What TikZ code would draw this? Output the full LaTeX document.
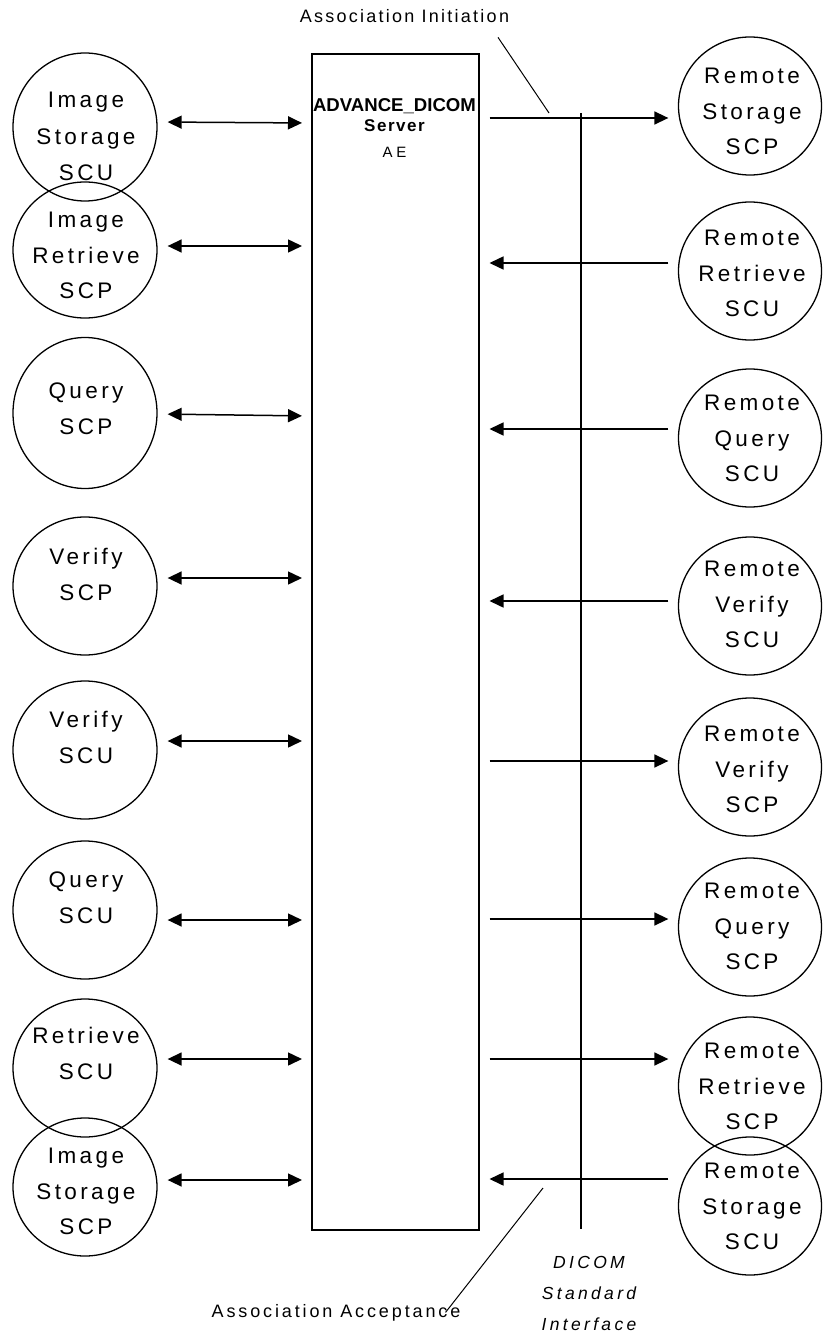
\documentclass[tikz,border=0pt]{standalone}
\usepackage{fontspec}
\setmainfont{Liberation Sans}
\newfontfamily\spacedfont[LetterSpace=15,Ligatures=NoCommon]{Liberation Sans}
\usetikzlibrary{shapes.geometric,arrows.meta,positioning,calc}

\tikzset{
    unit/.style={draw, ellipse, line width=1.3pt, minimum width=143pt, minimum height=138pt, inner sep=0pt},
    unittext/.style={anchor=north, align=center, inner sep=0pt, font=\spacedfont\fontsize{22.5}{35.5}\selectfont},
    labeltext/.style={anchor=base, inner sep=0pt, font=\fontsize{18}{20}\selectfont\addfontfeature{LetterSpace=#1}},
    twoway/.style={line width=1.5pt, {Triangle[length=14pt,width=13pt]}-{Triangle[length=14pt,width=13pt]}, shorten <=10pt, shorten >=9pt},
    oneway/.style={line width=1.5pt, -{Triangle[length=14pt,width=13pt]}, shorten <=9.5pt, shorten >=9.5pt},
    lead/.style={line width=1pt}
}

\begin{document}
\begin{tikzpicture}[x=1pt, y=-1pt]
    \useasboundingbox (0,0) rectangle (822,1337);

    % AE box
    \node [draw, line width=2pt, minimum width=167pt, minimum height=1176pt, anchor=north west, inner sep=0pt] (ae) at (311,53) {};
    \node [anchor=base, inner sep=0pt, font=\bfseries\fontsize{18.6}{20}\selectfont] (aename) at (394.5,112) {ADVANCE\_DICOM};
    \node [anchor=base, inner sep=0pt, font=\bfseries\fontsize{17}{18}\selectfont\addfontfeature{LetterSpace=9}] (aeserver) at (394.5,132) {Server};
    \node [anchor=base, inner sep=0pt, font=\fontsize{15}{18}\selectfont\addfontfeature{LetterSpace=25}] (aeae) at (394.5,158) {AE};

    % local units
    \node [unit, minimum width=144pt, minimum height=148pt] (isscu) at (85,127) {};
    \node [unittext, font=\spacedfont\fontsize{22.5}{36.5}\selectfont] (isscu-t) at (86,92) {Image\\Storage\\SCU};
    \node [unit, minimum width=144pt, minimum height=136pt] (irscp) at (85,250) {};
    \node [unittext] (irscp-t) at (86,212) {Image\\Retrieve\\SCP};
    \node [unit, minimum width=144pt, minimum height=151pt] (qscp) at (85,413) {};
    \node [unittext] (qscp-t) at (86,383) {Query\\SCP};
    \node [unit, minimum width=144pt] (vscp) at (85,586) {};
    \node [unittext] (vscp-t) at (86,548) {Verify\\SCP};
    \node [unit, minimum width=144pt] (vscu) at (85,750) {};
    \node [unittext] (vscu-t) at (86,711) {Verify\\SCU};
    \node [unit, minimum width=144pt] (qscu) at (85,910) {};
    \node [unittext] (qscu-t) at (86,872) {Query\\SCU};
    \node [unit, minimum width=144pt] (rscu) at (85,1068) {};
    \node [unittext] (rscu-t) at (86,1027) {Retrieve\\SCU};
    \node [unit, minimum width=144pt] (isscp) at (85,1187) {};
    \node [unittext] (isscp-t) at (86,1148) {Image\\Storage\\SCP};

    % remote units
    \node [unit] (rsscp) at (750,106) {};
    \node [unittext] (rsscp-t) at (752,68) {Remote\\Storage\\SCP};
    \node [unit] (rrscu) at (750,271) {};
    \node [unittext] (rrscu-t) at (752,230) {Remote\\Retrieve\\SCU};
    \node [unit] (rqscu) at (750,438) {};
    \node [unittext] (rqscu-t) at (752,395) {Remote\\Query\\SCU};
    \node [unit] (rvscu) at (750,606) {};
    \node [unittext] (rvscu-t) at (752,561) {Remote\\Verify\\SCU};
    \node [unit] (rvscp) at (750,767) {};
    \node [unittext] (rvscp-t) at (752,726) {Remote\\Verify\\SCP};
    \node [unit] (rqscp) at (750,927) {};
    \node [unittext] (rqscp-t) at (752,883) {Remote\\Query\\SCP};
    \node [unit] (rrscp) at (750,1086) {};
    \node [unittext] (rrscp-t) at (752,1043) {Remote\\Retrieve\\SCP};
    \node [unit] (rsscu) at (750,1206) {};
    \node [unittext] (rsscu-t) at (752,1163) {Remote\\Storage\\SCU};

    % local <-> AE
    \draw [twoway] (isscu.east |- 0,122) -- (ae.west |- 0,123);
    \draw [twoway] (irscp.east |- 0,246) -- (ae.west |- 0,246);
    \draw [twoway] (qscp.east |- 0,414) -- (ae.west |- 0,416);
    \draw [twoway] (vscp.east |- 0,578) -- (ae.west |- 0,578);
    \draw [twoway] (vscu.east |- 0,741) -- (ae.west |- 0,741);
    \draw [twoway] (qscu.east |- 0,920) -- (ae.west |- 0,920);
    \draw [twoway] (rscu.east |- 0,1059) -- (ae.west |- 0,1059);
    \draw [twoway] (isscp.east |- 0,1180) -- (ae.west |- 0,1180);

    % AE <-> remote
    \draw [oneway] (ae.east |- 0,118) -- (rsscp.west |- 0,118);
    \draw [oneway] (rrscu.west |- 0,263) -- (ae.east |- 0,263);
    \draw [oneway] (rqscu.west |- 0,429) -- (ae.east |- 0,429);
    \draw [oneway] (rvscu.west |- 0,601) -- (ae.east |- 0,601);
    \draw [oneway] (ae.east |- 0,761) -- (rvscp.west |- 0,761);
    \draw [oneway] (ae.east |- 0,919) -- (rqscp.west |- 0,919);
    \draw [oneway] (ae.east |- 0,1059) -- (rrscp.west |- 0,1059);
    \draw [oneway] (rsscu.west |- 0,1179) -- (ae.east |- 0,1179);

    % DICOM interface
    \coordinate (iftop) at (581,113);
    \coordinate (ifbot) at (581,1229);
    \draw [line width=2pt] (iftop) -- (ifbot);
    \node [anchor=north, align=center, inner sep=0pt, font=\spacedfont\itshape\fontsize{17.5}{31}\selectfont\addfontfeature{LetterSpace=19}] (dsi) at (589,1256) {DICOM\\Standard\\Interface};

    % association labels
    \node [labeltext=12.5] (init) at (404.5,23) {Association Initiation};
    \coordinate (initpt) at (549,113);
    \draw [lead] ([shift={(93.5pt,-14pt)}]init.south) -- (initpt);
    \node [labeltext=16] (acc) at (336,1317) {Association Acceptance};
    \coordinate (accpt) at (543,1188);
    \draw [lead] (accpt) -- ([xshift=-15pt]acc.east);
\end{tikzpicture}
\end{document}
